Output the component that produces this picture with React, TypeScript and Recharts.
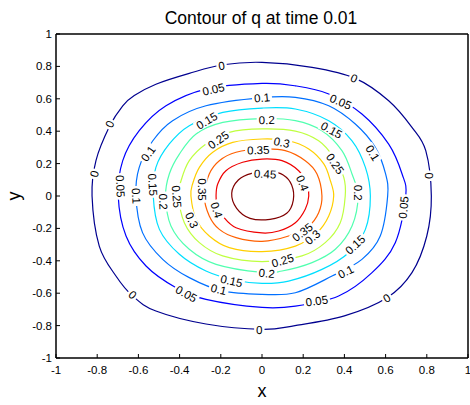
import { ComposedChart, Line, XAxis, YAxis } from "recharts";

type Pt = [number, number];

// contour levels of q and the jet colours MATLAB gives them
const levels = [0, 0.05, 0.1, 0.15, 0.2, 0.25, 0.3, 0.35, 0.4, 0.45];
const levelColors = [
  "#00008f",
  "#0000ff",
  "#0070ff",
  "#00dfff",
  "#50ffaf",
  "#bfff40",
  "#ffcf00",
  "#ff6000",
  "#ef0000",
  "#800000",
];

// vertices of each closed contour, counter-clockwise from the +x side
const q000: Pt[] = [
  [0.822, 0], [0.795, 0.28], [0.728, 0.424], [0.615, 0.588], [0.453, 0.726],
  [0.243, 0.794], [0, 0.825], [-0.19, 0.81], [-0.353, 0.757], [-0.515, 0.69],
  [-0.62, 0.62], [-0.676, 0.557], [-0.74, 0.43], [-0.806, 0.218], [-0.825, 0],
  [-0.79, -0.309], [-0.709, -0.494], [-0.628, -0.617], [-0.515, -0.71],
  [-0.272, -0.79], [0, -0.823], [0.16, -0.8], [0.4, -0.74], [0.607, -0.628],
  [0.728, -0.473], [0.8, -0.247],
];
const q005: Pt[] = [
  [0.698, 0], [0.68, 0.136], [0.615, 0.32], [0.485, 0.506], [0.324, 0.63],
  [0.162, 0.68], [0, 0.695], [-0.272, 0.66], [-0.466, 0.557], [-0.596, 0.403],
  [-0.676, 0.218], [-0.698, 0], [-0.66, -0.247], [-0.563, -0.432],
  [-0.417, -0.566], [-0.272, -0.638], [0, -0.688], [0.162, -0.68],
  [0.372, -0.617], [0.534, -0.473], [0.647, -0.288],
];
const q010: Pt[] = [
  [0.61, 0], [0.6, 0.136], [0.55, 0.3], [0.453, 0.444], [0.324, 0.557],
  [0.162, 0.609], [0, 0.607], [-0.272, 0.557], [-0.434, 0.465], [-0.53, 0.341],
  [-0.596, 0.177], [-0.612, 0], [-0.58, -0.226], [-0.482, -0.391],
  [-0.353, -0.504], [-0.191, -0.586], [0, -0.607], [0.162, -0.597],
  [0.34, -0.494], [0.485, -0.391], [0.574, -0.247],
];
const q015: Pt[] = [
  [0.526, 0], [0.502, 0.177], [0.437, 0.341], [0.324, 0.465], [0.162, 0.537],
  [0, 0.543], [-0.19, 0.516], [-0.353, 0.434], [-0.45, 0.321], [-0.515, 0.177],
  [-0.528, 0], [-0.498, -0.206], [-0.401, -0.36], [-0.272, -0.463],
  [-0.13, -0.52], [0, -0.539], [0.129, -0.525], [0.291, -0.453],
  [0.421, -0.35], [0.502, -0.206],
];
const q020: Pt[] = [
  [0.466, 0], [0.437, 0.136], [0.388, 0.28], [0.291, 0.403], [0.162, 0.465],
  [0, 0.478], [-0.19, 0.454], [-0.32, 0.383], [-0.401, 0.259], [-0.45, 0.136],
  [-0.468, 0], [-0.442, -0.185], [-0.353, -0.329], [-0.223, -0.422],
  [0, -0.472], [0.097, -0.463], [0.243, -0.411], [0.356, -0.329],
  [0.437, -0.185],
];
const q025: Pt[] = [
  [0.404, 0], [0.397, 0.115], [0.348, 0.239], [0.275, 0.341], [0.162, 0.401],
  [0, 0.414], [-0.159, 0.393], [-0.272, 0.321], [-0.353, 0.218],
  [-0.393, 0.094], [-0.405, 0], [-0.377, -0.165], [-0.304, -0.288],
  [-0.191, -0.37], [0, -0.405], [0.194, -0.37], [0.307, -0.288],
  [0.38, -0.165],
];
const q030: Pt[] = [
  [0.348, 0], [0.332, 0.094], [0.3, 0.198], [0.227, 0.29], [0.129, 0.341],
  [0, 0.352], [-0.142, 0.331], [-0.239, 0.27], [-0.304, 0.177],
  [-0.337, 0.074], [-0.345, 0], [-0.32, -0.144], [-0.256, -0.247],
  [-0.159, -0.319], [0, -0.343], [0.162, -0.309], [0.267, -0.226],
  [0.324, -0.123],
];
const q035: Pt[] = [
  [0.291, 0], [0.267, 0.136], [0.21, 0.218], [0.113, 0.28], [0, 0.29],
  [-0.126, 0.27], [-0.207, 0.218], [-0.256, 0.136], [-0.28, 0],
  [-0.256, -0.123], [-0.207, -0.206], [-0.126, -0.257], [0, -0.28],
  [0.129, -0.247], [0.227, -0.185], [0.275, -0.103],
];
const q040: Pt[] = [
  [0.227, 0], [0.218, 0.074], [0.178, 0.156], [0.097, 0.218], [0, 0.228],
  [-0.094, 0.208], [-0.175, 0.156], [-0.215, 0.074], [-0.223, 0],
  [-0.218, -0.06], [-0.191, -0.123], [-0.126, -0.196], [0, -0.228],
  [0.081, -0.216], [0.162, -0.165], [0.21, -0.082],
];
const q045: Pt[] = [
  [0.152, -0.025], [0.144, 0.068], [0.103, 0.13], [0.039, 0.15], [-0.05, 0.14],
  [-0.115, 0.099], [-0.147, 0.017], [-0.123, -0.076], [-0.058, -0.138],
  [0.039, -0.144], [0.12, -0.107],
];
const contours = [q000, q005, q010, q015, q020, q025, q030, q035, q040, q045];

// inline clabel spots: [level index, x, y]
const labelSpots: [number, number, number][] = [
  [0, -0.196, 0.804], [0, 0.447, 0.727], [0, -0.74, 0.444], [0, -0.814, 0.136],
  [0, 0.812, 0.125], [0, -0.628, -0.609], [0, 0.606, -0.63], [0, -0.013, -0.826],
  [1, -0.236, 0.659], [1, 0.382, 0.582], [1, -0.687, 0.06], [1, 0.687, -0.07],
  [1, -0.367, -0.604], [1, 0.266, -0.647],
  [2, 0, 0.607], [2, -0.553, 0.262], [2, 0.537, 0.266], [2, -0.61, 0],
  [2, 0.407, -0.467], [2, -0.21, -0.576],
  [3, -0.268, 0.465], [3, 0.338, 0.407], [3, -0.53, 0.07], [3, 0.452, -0.3],
  [3, -0.148, -0.524],
  [4, 0.023, 0.469], [4, -0.479, -0.035], [4, 0.468, 0.02], [4, 0.023, -0.477],
  [5, -0.212, 0.346], [5, 0.355, 0.2], [5, -0.414, -0.004], [5, 0.1, -0.398],
  [6, 0.096, 0.331], [6, -0.341, -0.148], [6, 0.245, -0.254],
  [7, -0.018, 0.284], [7, -0.29, 0.04], [7, 0.196, -0.223],
  [8, 0.197, 0.08], [8, -0.22, -0.086],
  [9, 0.015, 0.136],
];

const xTicks = [-1, -0.8, -0.6, -0.4, -0.2, 0, 0.2, 0.4, 0.6, 0.8, 1];
const yTicks = [-1, -0.8, -0.6, -0.4, -0.2, 0, 0.2, 0.4, 0.6, 0.8, 1];

const W = 470;
const H = 405;
// axis bands: plot box runs x 56..468, y 34..358
const TOP_BAND = 34;
const BOTTOM_BAND = 47;
const LEFT_BAND = 56;
const RIGHT_BAND = 2;
const plotW = W - LEFT_BAND - RIGHT_BAND;
const plotH = H - TOP_BAND - BOTTOM_BAND;
const FONT = '"Liberation Sans", Arial, Helvetica, sans-serif';
const LABEL_SIZE = 11.5;

// closed Catmull-Rom spline through the contour vertices
const closedCurve = (context: any) => {
  let pts: number[][] = [];
  return {
    areaStart() {},
    areaEnd() {},
    lineStart() {
      pts = [];
    },
    point(x: number, y: number) {
      pts.push([x, y]);
    },
    lineEnd() {
      const n = pts.length;
      if (n < 3) return;
      context.moveTo(pts[0][0], pts[0][1]);
      for (let i = 0; i < n; i++) {
        const a = pts[(i + n - 1) % n];
        const b = pts[i];
        const c = pts[(i + 1) % n];
        const d = pts[(i + 2) % n];
        context.bezierCurveTo(
          b[0] + (c[0] - a[0]) / 6,
          b[1] + (c[1] - a[1]) / 6,
          c[0] - (d[0] - b[0]) / 6,
          c[1] - (d[1] - b[1]) / 6,
          c[0],
          c[1]
        );
      }
      context.closePath();
    },
  };
};

// screen angle of the contour where a label sits, kept upright
function tangentAngle(li: number, x: number, y: number) {
  const pts = contours[li];
  const n = pts.length;
  let best = 0;
  let bestD = Infinity;
  pts.forEach(([px, py], i) => {
    const d = (px - x) ** 2 + (py - y) ** 2;
    if (d < bestD) {
      bestD = d;
      best = i;
    }
  });
  const a = pts[(best + n - 1) % n];
  const b = pts[(best + 1) % n];
  const sx = ((b[0] - a[0]) * plotW) / 2;
  const sy = (-(b[1] - a[1]) * plotH) / 2;
  let ang = (Math.atan2(sy, sx) * 180) / Math.PI;
  if (ang > 90) ang -= 180;
  if (ang <= -90) ang += 180;
  return ang;
}

const labelData = labelSpots.map(([li, x, y]) => ({
  x,
  y,
  text: String(levels[li]),
  angle: tangentAngle(li, x, y),
}));

const renderLabel = (props: any) => {
  const { cx, cy, payload, index } = props;
  if (cx == null || cy == null) return <g key={`lab-${index}`} />;
  const text: string = payload.text;
  const dots = text.split(".").length - 1;
  const w = LABEL_SIZE * ((text.length - dots) * 0.556 + dots * 0.278) + 4;
  const h = LABEL_SIZE * 0.9;
  return (
    <g key={`lab-${index}`} transform={`translate(${cx},${cy}) rotate(${payload.angle})`}>
      <rect x={-w / 2} y={-h / 2} width={w} height={h} fill="#fff" />
      <text
        x={0}
        y={0}
        dy="0.36em"
        textAnchor="middle"
        fontSize={LABEL_SIZE}
        fontFamily={FONT}
        fill="#000"
      >
        {text}
      </text>
    </g>
  );
};

const tickStyle = { fontSize: 11.5, fontFamily: FONT, fill: "#000" };
const axisLineStyle = { stroke: "#000", strokeWidth: 1.5 };

export default function App() {
  return (
    <div
      style={{
        position: "absolute",
        left: 0,
        top: 0,
        width: W,
        height: H,
        background: "#fff",
        overflow: "hidden",
      }}
    >
      <ComposedChart width={W} height={H} margin={{ top: 0, right: 0, bottom: 0, left: 0 }}>
        <XAxis
          xAxisId="b"
          type="number"
          dataKey="x"
          domain={[-1, 1]}
          allowDataOverflow
          ticks={xTicks}
          interval={0}
          height={BOTTOM_BAND}
          tickSize={-4}
          tickMargin={12}
          tick={tickStyle}
          tickLine={{ stroke: "#000" }}
          axisLine={axisLineStyle}
        />
        <XAxis
          xAxisId="t"
          orientation="top"
          type="number"
          dataKey="x"
          domain={[-1, 1]}
          allowDataOverflow
          ticks={xTicks}
          interval={0}
          height={TOP_BAND}
          tickSize={-4}
          tick={false}
          tickLine={{ stroke: "#000" }}
          axisLine={axisLineStyle}
        />
        <YAxis
          yAxisId="l"
          type="number"
          dataKey="y"
          domain={[-1, 1]}
          allowDataOverflow
          ticks={yTicks}
          interval={0}
          width={LEFT_BAND}
          tickSize={-4}
          tickMargin={8}
          tick={tickStyle}
          tickLine={{ stroke: "#000" }}
          axisLine={axisLineStyle}
        />
        <YAxis
          yAxisId="r"
          orientation="right"
          type="number"
          dataKey="y"
          domain={[-1, 1]}
          allowDataOverflow
          ticks={yTicks}
          interval={0}
          width={RIGHT_BAND}
          tickSize={-4}
          tick={false}
          tickLine={{ stroke: "#000" }}
          axisLine={axisLineStyle}
        />
        {contours.map((pts, i) => (
          <Line
            key={`c${i}`}
            xAxisId="b"
            yAxisId="l"
            data={pts.map(([x, y]) => ({ x, y }))}
            dataKey="y"
            type={closedCurve as any}
            stroke={levelColors[i]}
            strokeWidth={1.2}
            dot={false}
            activeDot={false}
            isAnimationActive={false}
          />
        ))}
        <Line
          xAxisId="b"
          yAxisId="l"
          data={labelData}
          dataKey="y"
          stroke="none"
          dot={renderLabel}
          activeDot={false}
          isAnimationActive={false}
        />
      </ComposedChart>
      <svg
        width={W}
        height={H}
        style={{ position: "absolute", left: 0, top: 0, pointerEvents: "none" }}
      >
        <text x={261} y={24} textAnchor="middle" fontSize={17.5} fontFamily={FONT} fill="#000">
          Contour of q at time 0.01
        </text>
        <text x={262} y={397} textAnchor="middle" fontSize={18} fontFamily={FONT} fill="#000">
          x
        </text>
        <text
          x={20}
          y={196}
          transform="rotate(-90 20 196)"
          textAnchor="middle"
          fontSize={18}
          fontFamily={FONT}
          fill="#000"
        >
          y
        </text>
      </svg>
    </div>
  );
}
